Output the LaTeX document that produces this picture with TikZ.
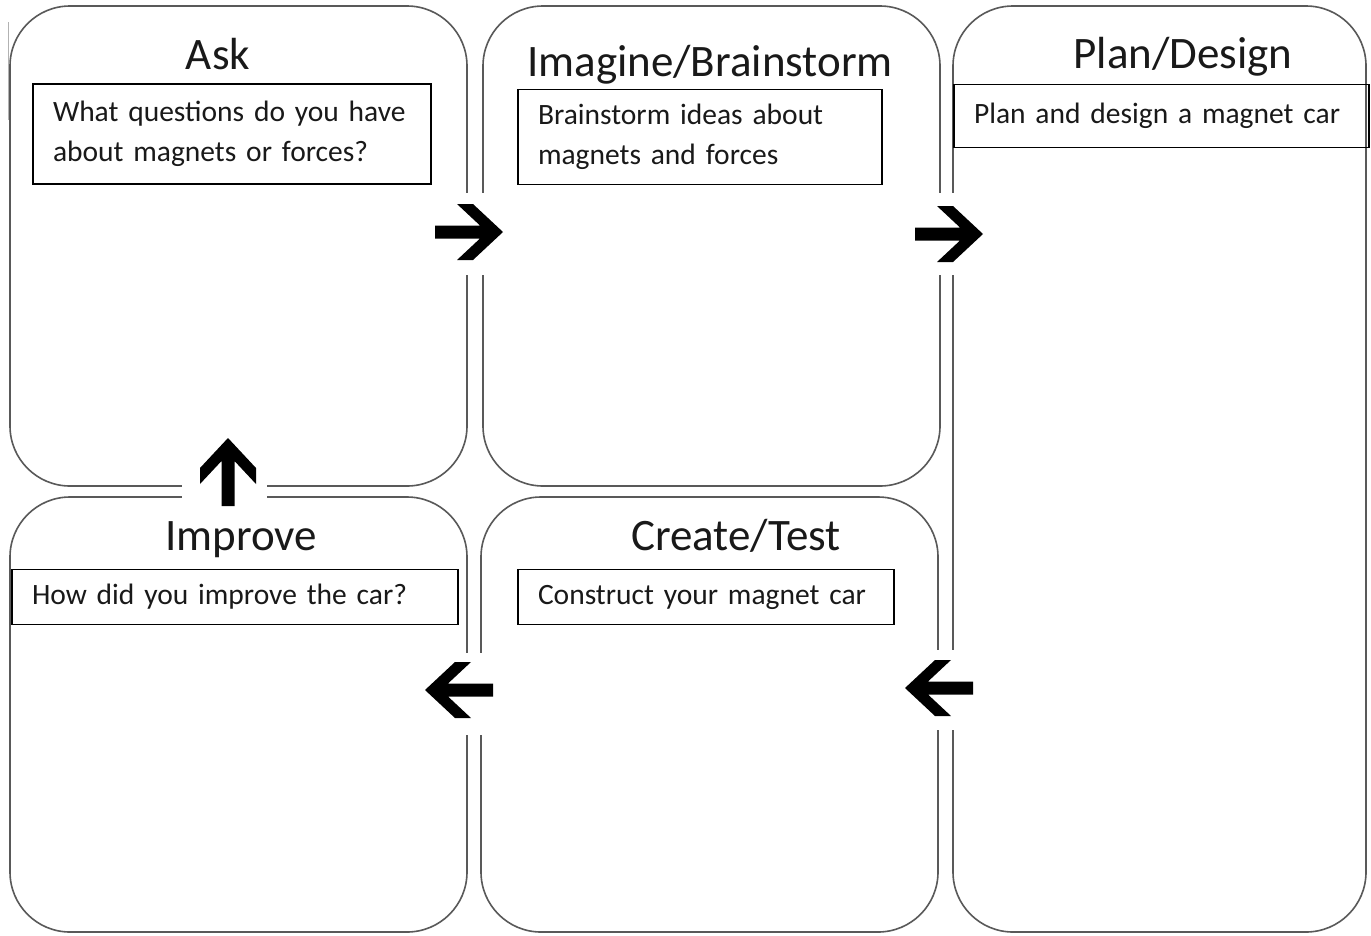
\documentclass[tikz,border=0pt]{standalone}
\usepackage{fontspec}
\setmainfont{Carlito}
\definecolor{boxgray}{gray}{0.35}
\definecolor{inkgray}{gray}{0.1}
\tikzset{
  fatarrow/.pic={
    \fill[black] (0,0) -- (-30,-28) -- (-46,-28) -- (-23,-6.5) -- (-68,-6.5)
      -- (-68,6.5) -- (-23,6.5) -- (-46,28) -- (-30,28) -- cycle;
  }
}

\begin{document}
\begin{tikzpicture}[x=1pt, y=-1pt]
	  \tikzstyle{stage} = [draw=boxgray, line width=1.6pt, rounded corners=60pt, inner sep=0pt]
	  \tikzstyle{title} = [anchor=base, inner sep=0pt, font=\fontsize{45}{52}\selectfont, text=inkgray]
	  \tikzstyle{taskbox} = [draw=black, line width=1.6pt, align=left, inner xsep=20pt, inner ysep=0pt, font=\fontsize{29.5}{40}\selectfont, text=inkgray]
	  \tikzstyle{gap} = [fill=white, inner sep=0pt]
	  \fill[white] (0,0) rectangle (1371,935);
	  \draw[gray!60, line width=1pt] (8,22) -- (8,120);
	  % the five stages
	  \node (ask)[stage, minimum width=457pt, minimum height=480pt] at (238.5, 246) {};
	  \node (imagine)[stage, minimum width=457pt, minimum height=480pt] at (711.5, 246) {};
	  \node (plan)[stage, minimum width=413pt, minimum height=926pt] at (1159.5, 469) {};
	  \node (improve)[stage, minimum width=457pt, minimum height=435pt] at (238.5, 714.5) {};
	  \node (create)[stage, minimum width=457pt, minimum height=435pt] at (709.5, 714.5) {};
	  % titles
	  \node (askt)[title] at (218, 69) {Ask};
	  \node (imaginet)[title] at (710, 76) {Imagine/Brainstorm};
	  \node (plant)[title] at (1183, 68) {Plan/Design};
	  \node (improvet)[title] at (241, 550) {Improve};
	  \node (createt)[title] at (736, 550) {Create/Test};
	  % prompts
	  \node (askq)[taskbox, text width=358pt, minimum height=100pt] at (232, 134) {What questions do you have\\about magnets or forces?};
	  \node (imagineq)[taskbox, text width=324pt, minimum height=95pt] at (700, 137) {Brainstorm ideas about\\magnets and forces};
	  \node (planq)[taskbox, text width=375pt, minimum height=63pt] at (1161.5, 116) {Plan and design a magnet car};
	  \node (improveq)[taskbox, text width=406pt, minimum height=55pt] at (235, 597) {How did you improve the car?};
	  \node (createq)[taskbox, text width=336pt, minimum height=55pt] at (706, 597) {Construct your magnet car};
	  % arrows between stages
	  \node (g1)[gap, minimum width=78pt, minimum height=82pt] at (469, 234) {};
	  \node (g2)[gap, minimum width=78pt, minimum height=82pt] at (949, 234) {};
	  \node (g3)[gap, minimum width=85pt, minimum height=40pt] at (224.5, 491.5) {};
	  \node (g4)[gap, minimum width=80pt, minimum height=82pt] at (460, 694) {};
	  \node (g5)[gap, minimum width=80pt, minimum height=80pt] at (940, 690) {};
	  \coordinate (a1) at (503, 232);
	  \coordinate (a2) at (983, 234);
	  \coordinate (a3) at (228, 438);
	  \coordinate (a4) at (425, 690);
	  \coordinate (a5) at (905, 688);
	  \pic at (a1) {fatarrow};
	  \pic at (a2) {fatarrow};
	  \pic[rotate=90] at (a3) {fatarrow};
	  \pic[rotate=180] at (a4) {fatarrow};
	  \pic[rotate=180] at (a5) {fatarrow};
	  \useasboundingbox (0,0) rectangle (1371,935);
\end{tikzpicture}
\end{document}
